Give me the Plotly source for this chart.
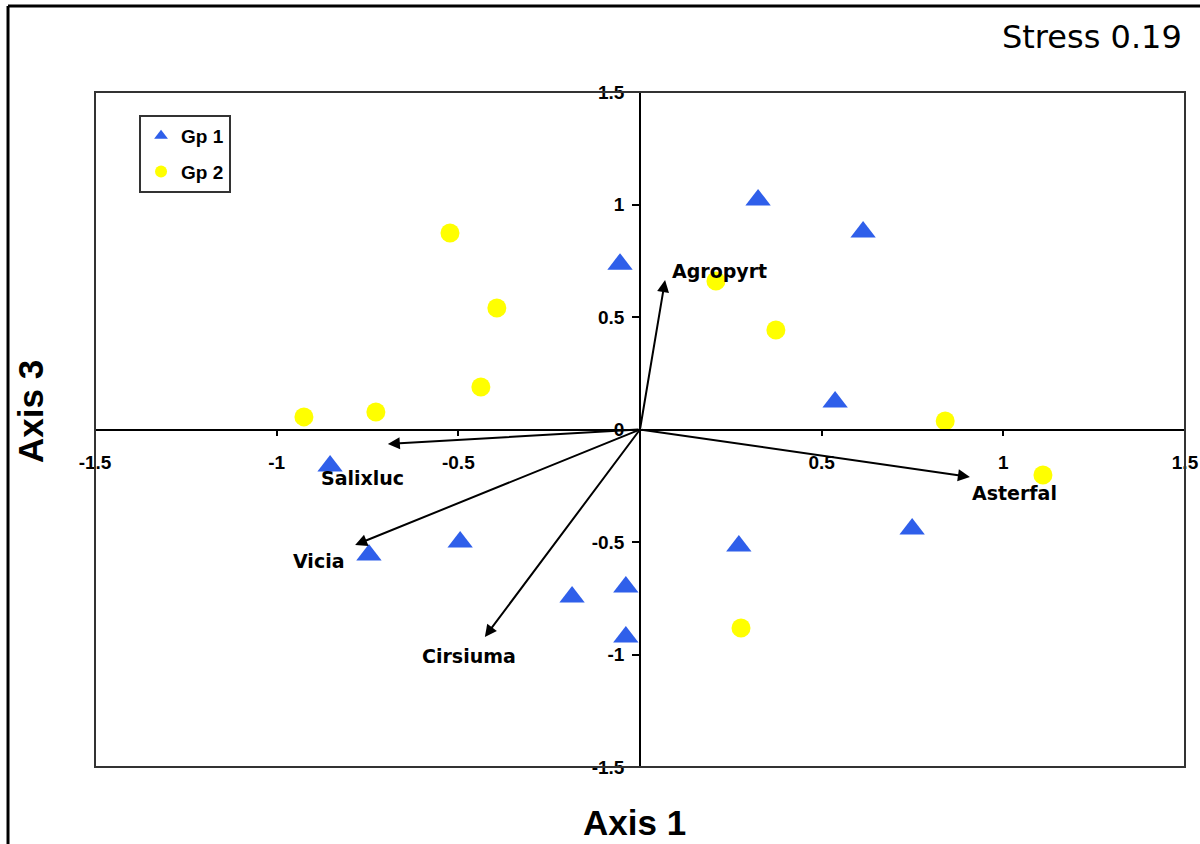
import plotly.graph_objects as go

# Group 1 (triangles)
gp1_x = [0.325, 0.614, -0.055, 0.537, -0.853, -0.746, -0.495, -0.187, -0.039, -0.039, 0.272, 0.749]
gp1_y = [1.02, 0.878, 0.735, 0.122, -0.162, -0.558, -0.50, -0.744, -0.70, -0.922, -0.518, -0.442]

# Group 2 (circles)
gp2_x = [-0.523, -0.394, -0.438, -0.727, -0.925, 0.209, 0.374, 0.84, 1.109, 0.278]
gp2_y = [0.873, 0.54, 0.189, 0.078, 0.056, 0.66, 0.442, 0.038, -0.202, -0.882]

# Species vectors (tips)
vec_names = ["Agropyrt", "Salixluc", "Vicia", "Cirsiuma", "Asterfal"]
vec_x = [0.069, -0.694, -0.784, -0.427, 0.908]
vec_y = [0.664, -0.064, -0.513, -0.922, -0.211]
# Label positions
lab_x = [0.083, -0.765, -0.886, -0.471, 1.032]
lab_y = [0.704, -0.216, -0.584, -1.007, -0.282]
lab_anchor = ["left", "center", "center", "center", "center"]

x_ticks = [-1.5, -1, -0.5, 0.5, 1, 1.5]
x_tick_text = ["-1.5", "-1", "-0.5", "0.5", "1", "1.5"]
y_ticks = [-1.5, -1, -0.5, 0, 0.5, 1, 1.5]
y_tick_text = ["-1.5", "-1", "-0.5", "0", "0.5", "1", "1.5"]

fig = go.Figure()
fig.add_trace(go.Scatter(x=gp1_x, y=gp1_y, mode="markers", name="Gp 1", legendgroup="g1",
                         marker=dict(symbol="triangle-up", size=22, color="#2F5FEA", line=dict(width=0))))
fig.add_trace(go.Scatter(x=gp2_x, y=gp2_y, mode="markers", name="Gp 2", legendgroup="g2",
                         marker=dict(symbol="circle", size=19, color="#FFFF00", line=dict(width=0))))

annotations = []
for vx, vy in zip(vec_x, vec_y):
    annotations.append(dict(x=vx, y=vy, ax=0, ay=0, xref="x", yref="y", axref="x", ayref="y",
                            text="", showarrow=True, arrowhead=2, arrowsize=1.2, arrowwidth=2,
                            arrowcolor="black"))
for name, lx, ly, anc in zip(vec_names, lab_x, lab_y, lab_anchor):
    annotations.append(dict(x=lx, y=ly, xref="x", yref="y", text=name, showarrow=False,
                            xanchor=anc, yanchor="middle",
                            font=dict(family="DejaVu Sans", size=19, color="black", weight="bold")))

annotations.append(dict(x=0.4954, y=-0.0815, xref="paper", yref="paper", text="Axis 1", showarrow=False,
                        xanchor="center", yanchor="middle",
                        font=dict(family="Liberation Sans", size=35, color="black", weight="bold")))
annotations.append(dict(x=-0.0587, y=0.526, xref="paper", yref="paper", text="Axis 3", showarrow=False,
                        textangle=-90, xanchor="center", yanchor="middle",
                        font=dict(family="Liberation Sans", size=35, color="black", weight="bold")))
annotations.append(dict(x=0.9147, y=1.0815, xref="paper", yref="paper", text="Stress 0.19", showarrow=False,
                        xanchor="center", yanchor="middle",
                        font=dict(family="DejaVu Sans", size=32, color="black")))

tickfont = dict(family="Liberation Sans", size=19, color="black", weight="bold")

fig.update_layout(
    width=1200, height=844,
    margin=dict(l=95, r=15, t=92, b=77),
    paper_bgcolor="white", plot_bgcolor="white",
    showlegend=True,
    legend=dict(x=0.0404, y=0.966, xanchor="left", yanchor="top",
                bordercolor="#333333", borderwidth=2, bgcolor="white",
                font=dict(family="Liberation Sans", size=19, color="black", weight="bold"),
                itemsizing="constant", tracegroupgap=8),
    xaxis=dict(range=[-1.5, 1.5], anchor="free", position=0.5, showgrid=False, zeroline=False,
               automargin=False,
               showline=True, linecolor="black", linewidth=1.5,
               tickmode="array", tickvals=x_ticks, ticktext=x_tick_text,
               ticks="outside", ticklen=6, tickwidth=1.5, tickcolor="black",
               tickfont=tickfont, ticklabelstandoff=10),
    yaxis=dict(range=[-1.5, 1.5], anchor="free", position=0.5, showgrid=False, zeroline=False,
               automargin=False,
               showline=True, linecolor="black", linewidth=1.5,
               tickmode="array", tickvals=y_ticks, ticktext=y_tick_text,
               ticks="outside", ticklen=7, tickwidth=1.5, tickcolor="black",
               tickfont=tickfont, ticklabelstandoff=4),
    annotations=annotations,
    shapes=[
        dict(type="rect", xref="paper", yref="paper", x0=0, x1=1, y0=0, y1=1,
             line=dict(color="#333333", width=2), layer="above"),
        dict(type="line", xref="paper", yref="paper", x0=-0.0798, x1=-0.0798, y0=-0.2, y1=1.1274,
             line=dict(color="black", width=3)),
        dict(type="line", xref="paper", yref="paper", x0=-0.0798, x1=1.2, y0=1.1274, y1=1.1274,
             line=dict(color="black", width=3)),
    ],
)

fig.write_html("out.html", config={"displayModeBar": False},
               post_script="document.body.style.margin='0';document.body.style.overflow='hidden';")
